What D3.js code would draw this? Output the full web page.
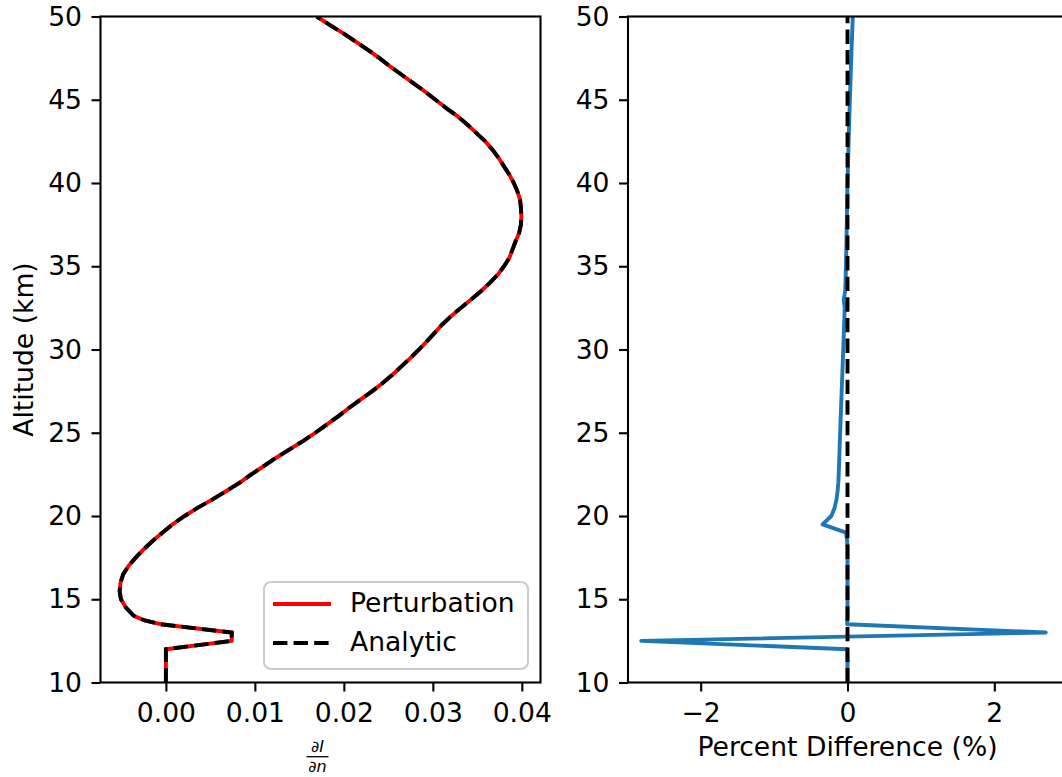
<!DOCTYPE html>
<html>
<head>
<meta charset="utf-8">
<script src="https://cdn.jsdelivr.net/npm/d3@7"></script>
<style>
  body { margin: 0; background: #fff; }
  text { font-family: "DejaVu Sans", sans-serif; }
</style>
</head>
<body>
<svg id="chart" width="1062" height="777"></svg>
<script>
// altitude grid (km) and dI/dn for the left panel
var leftAlt = [10, 10.5, 11, 11.5, 12, 12.5, 13, 13.5, 13.75, 14, 14.5, 15, 15.5, 16, 16.5, 17, 17.5, 18, 18.5, 19, 19.5,
  20, 20.5, 21, 21.5, 22, 22.5, 23, 23.5, 24, 24.5, 25, 25.5, 26, 26.5, 27, 27.5, 28, 28.5, 29, 29.5,
  30, 30.5, 31, 31.5, 32, 32.5, 33, 33.5, 34, 34.5, 35, 35.5, 36, 36.5, 37, 37.5, 38, 38.5, 39, 39.5,
  40, 40.5, 41, 41.5, 42, 42.5, 43, 43.5, 44, 44.5, 45, 45.5, 46, 46.5, 47, 47.5, 48, 48.5, 49, 49.5, 50];
var perturbation = [0, 0, 0, 0, 0, 0.0074, 0.0074, -0.0006, -0.0025, -0.0036, -0.0045, -0.00505, -0.0052, -0.0051, -0.0048, -0.0042, -0.0034, -0.0025, -0.0015, -0.0004, 0.00075,
  0.0021, 0.0036, 0.00525, 0.0068, 0.0083, 0.0096, 0.011, 0.0124, 0.0139, 0.0154, 0.0168, 0.0181, 0.0194, 0.0206, 0.0219, 0.0232, 0.0244, 0.0255, 0.0265, 0.0275,
  0.02845, 0.02935, 0.0302, 0.03105, 0.03205, 0.03315, 0.0343, 0.0354, 0.0364, 0.0373, 0.038, 0.0386, 0.03895, 0.0393, 0.0397, 0.0399, 0.03995, 0.0399, 0.0398, 0.0395,
  0.0391, 0.0386, 0.038, 0.0374, 0.0367, 0.0359, 0.0349, 0.0339, 0.0328, 0.0315, 0.0303, 0.0291, 0.0278, 0.0265, 0.0252, 0.024, 0.0227, 0.0213, 0.0199, 0.0184, 0.01695];
var analytic = perturbation.slice();

// percent difference for the right panel
var pctAlt = [10, 11, 11.5, 12, 12.5, 13, 13.5, 14, 16, 18, 18.5, 19, 19.5, 20, 20.5, 21, 21.5, 22, 22.5, 24, 26, 28, 30, 32, 32.5, 33, 33.5, 34, 36, 38, 40, 42, 44, 46, 48, 50];
var pctDiff = [0, 0, 0, -0.005, -2.81, 2.70, -0.005, 0, 0, 0, -0.005, -0.02, -0.34, -0.22, -0.175, -0.15, -0.135, -0.125, -0.12, -0.108, -0.092, -0.075, -0.058, -0.042, -0.038, -0.052, -0.032, -0.027, -0.016, -0.008, 0.0, 0.012, 0.025, 0.04, 0.055, 0.072];

var yTicks = [10, 15, 20, 25, 30, 35, 40, 45, 50];
var leftXTicks = [0, 0.01, 0.02, 0.03, 0.04];
var rightXTicks = [-2, 0, 2];

var svg = d3.select("#chart");
var fs = 26.6;
var yTop = 16.5, yBot = 682.5;

var y = d3.scaleLinear().domain([10, 50]).range([yBot, yTop]);
var xL = d3.scaleLinear().domain([-0.00735, 0.0421]).range([100.5, 540.5]);
var xR = d3.scaleLinear().domain([-2.99, 2.99]).range([628, 1067]);

function panel(x, ticks, fmt, id) {
  var g = svg.append("g");
  var x0 = x.range()[0], x1 = x.range()[1];
  g.append("clipPath").attr("id", id).append("rect")
    .attr("x", x0).attr("y", yTop).attr("width", x1 - x0).attr("height", yBot - yTop);

  var ax = g.append("g").attr("transform", "translate(0," + yBot + ")")
    .call(d3.axisBottom(x).tickValues(ticks).tickFormat(fmt).tickSize(9).tickPadding(12));
  var ay = g.append("g").attr("transform", "translate(" + x0 + ",0)")
    .call(d3.axisLeft(y).tickValues(yTicks).tickFormat(d3.format("d")).tickSize(9).tickPadding(9.5));
  [ax, ay].forEach(function (a) {
    a.select(".domain").remove();
    a.selectAll("line").attr("stroke", "#000").attr("stroke-width", 2.1);
    a.selectAll("text").attr("font-size", fs).attr("fill", "#000").style("font-family", "DejaVu Sans");
  });
  var plot = g.append("g").attr("clip-path", "url(#" + id + ")");
  // frame drawn last
  g.append("rect").attr("x", x0).attr("y", yTop).attr("width", x1 - x0).attr("height", yBot - yTop)
    .attr("fill", "none").attr("stroke", "#000").attr("stroke-width", 2.1);
  return plot;
}

var left = panel(xL, leftXTicks, d3.format(".2f"), "clipL");
var right = panel(xR, rightXTicks, function (d) { return d < 0 ? "\u2212" + Math.abs(d) : d; }, "clipR");

var lineL = d3.line().x(function (d) { return xL(d[1]); }).y(function (d) { return y(d[0]); });
left.append("path").datum(d3.zip(leftAlt, perturbation)).attr("d", lineL)
  .attr("fill", "none").attr("stroke", "#ff0000").attr("stroke-width", 3.9).attr("stroke-linejoin", "round");
left.append("path").datum(d3.zip(leftAlt, analytic)).attr("d", lineL)
  .attr("fill", "none").attr("stroke", "#000").attr("stroke-width", 3.9).attr("stroke-dasharray", "14.4,6.2");

var lineR = d3.line().x(function (d) { return xR(d[1]); }).y(function (d) { return y(d[0]); });
right.append("path").datum(d3.zip(pctAlt, pctDiff)).attr("d", lineR)
  .attr("fill", "none").attr("stroke", "#1f77b4").attr("stroke-width", 3.9)
  .attr("stroke-linejoin", "round").attr("stroke-linecap", "round");
right.append("path").datum([[10, 0], [50, 0]]).attr("d", lineR)
  .attr("fill", "none").attr("stroke", "#000").attr("stroke-width", 3.9).attr("stroke-dasharray", "14.4,6.2");

// legend
var lg = svg.append("g");
lg.append("rect").attr("x", 264).attr("y", 582).attr("width", 264).attr("height", 87).attr("rx", 7)
  .attr("fill", "#fff").attr("fill-opacity", 0.8).attr("stroke", "#cccccc").attr("stroke-width", 2.1);
lg.append("line").attr("x1", 273).attr("x2", 331).attr("y1", 604).attr("y2", 604)
  .attr("stroke", "#ff0000").attr("stroke-width", 3.9);
lg.append("line").attr("x1", 273).attr("x2", 331).attr("y1", 643).attr("y2", 643)
  .attr("stroke", "#000").attr("stroke-width", 3.9).attr("stroke-dasharray", "14.4,6.2");
lg.append("text").attr("x", 350).attr("y", 612).attr("font-size", fs).text("Perturbation");
lg.append("text").attr("x", 350).attr("y", 651).attr("font-size", fs).text("Analytic");

// axis labels
svg.append("text").attr("transform", "translate(33,349.5) rotate(-90)").attr("text-anchor", "middle")
  .attr("font-size", fs).text("Altitude (km)");
svg.append("text").attr("x", 847.5).attr("y", 756).attr("text-anchor", "middle")
  .attr("font-size", fs).text("Percent Difference (%)");

// dI/dn fraction
var fr = svg.append("g").attr("font-size", 16).attr("font-style", "italic").attr("text-anchor", "middle");
fr.append("text").attr("x", 317.5).attr("y", 752).text("\u2202I");
fr.append("line").attr("x1", 306.5).attr("x2", 328.5).attr("y1", 756.7).attr("y2", 756.7)
  .attr("stroke", "#000").attr("stroke-width", 1.3);
fr.append("text").attr("x", 317.5).attr("y", 772).text("\u2202n");
</script>
</body>
</html>
